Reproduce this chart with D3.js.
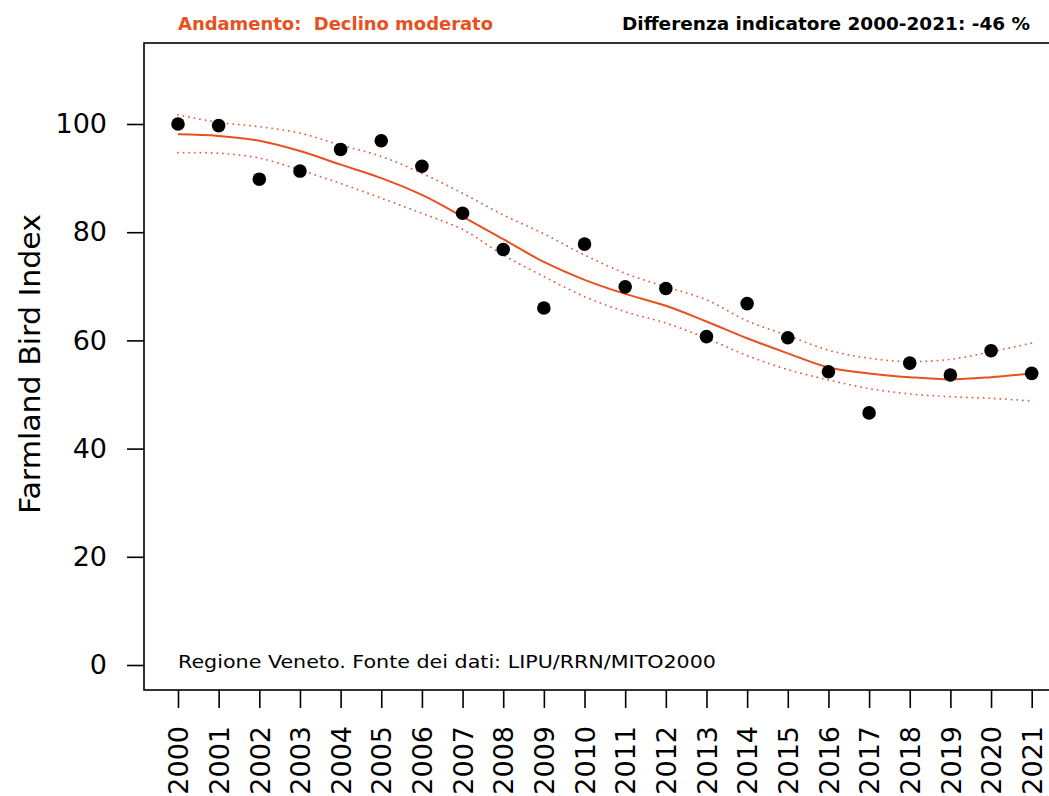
<!DOCTYPE html>
<html>
<head>
<meta charset="utf-8">
<script src="https://cdn.jsdelivr.net/npm/d3@7"></script>
<style>
  body { margin: 0; background: #fff; }
  svg { display: block; font-family: "DejaVu Sans", Verdana, sans-serif; }
</style>
</head>
<body>
<svg id="chart" width="1049" height="796"></svg>
<script>
const width = 1049;
const height = 796;

// data
const years = [2000, 2001, 2002, 2003, 2004, 2005, 2006, 2007, 2008, 2009, 2010,
  2011, 2012, 2013, 2014, 2015, 2016, 2017, 2018, 2019, 2020, 2021];
const index = [100, 99.7, 89.8, 91.3, 95.3, 96.9, 92.2, 83.5, 76.8, 66.0, 77.8,
  69.9, 69.6, 60.7, 66.8, 60.5, 54.2, 46.6, 55.8, 53.6, 58.1, 53.9];
const trend = [98.1, 97.8, 96.9, 95.0, 92.5, 90.0, 86.9, 82.9, 78.7, 74.5, 71.2,
  68.6, 66.4, 63.5, 60.4, 57.6, 55.0, 53.9, 53.2, 52.8, 53.2, 53.9];
const upper = [101.7, 100.3, 99.5, 98.3, 96.1, 94.0, 90.9, 87.2, 83.2, 79.7, 75.8,
  72.4, 69.9, 67.5, 63.6, 60.9, 58.2, 56.7, 56.1, 56.5, 57.9, 59.5];
const lower = [94.7, 94.6, 93.7, 91.5, 89.0, 86.3, 83.5, 80.5, 75.8, 71.8, 68.1,
  65.3, 63.2, 60.4, 57.2, 54.6, 52.7, 51.1, 50.1, 49.6, 49.3, 48.8];
const yTicks = [0, 20, 40, 60, 80, 100];

const orange = "#E8501E";

const svg = d3.select("#chart");

const box = { left: 144, top: 43, right: 1052, bottom: 690 };

const x = d3.scaleLinear().domain([2000, 2021]).range([178, 1031.7]);
const y = d3.scaleLinear().domain([0, 100]).range([665, 124]);

// headline texts
svg.append("text")
  .attr("x", 178).attr("y", 30)
  .attr("font-size", 18).attr("font-weight", "bold")
  .attr("fill", orange)
  .attr("textLength", 315).attr("lengthAdjust", "spacingAndGlyphs")
  .attr("xml:space", "preserve")
  .text("Andamento:  Declino moderato");

svg.append("text")
  .attr("x", 622).attr("y", 30)
  .attr("font-size", 18).attr("font-weight", "bold")
  .attr("fill", "#000")
  .attr("textLength", 408).attr("lengthAdjust", "spacingAndGlyphs")
  .text("Differenza indicatore 2000-2021: -46 %");

// plot frame
svg.append("rect")
  .attr("x", box.left).attr("y", box.top)
  .attr("width", box.right - box.left).attr("height", box.bottom - box.top)
  .attr("fill", "none").attr("stroke", "#000").attr("stroke-width", 1.6);

// y axis
const yAxis = svg.append("g")
  .attr("transform", `translate(${box.left},0)`)
  .call(d3.axisLeft(y).tickValues(yTicks).tickSize(17).tickPadding(20));
yAxis.select(".domain").remove();
yAxis.selectAll("line").attr("stroke", "#000").attr("stroke-width", 1.6);
yAxis.selectAll("text")
  .attr("font-size", 27).attr("fill", "#000")
  .attr("font-family", "DejaVu Sans, sans-serif");

// x axis
const xAxis = svg.append("g")
  .attr("transform", `translate(0,${box.bottom})`)
  .call(d3.axisBottom(x).tickValues(years).tickFormat(d3.format("d")).tickSize(18));
xAxis.select(".domain").remove();
xAxis.selectAll("line").attr("stroke", "#000").attr("stroke-width", 1.6);
xAxis.selectAll("text")
  .attr("font-size", 27).attr("fill", "#000")
  .attr("font-family", "DejaVu Sans, sans-serif")
  .attr("transform", "rotate(-90)")
  .attr("text-anchor", "end")
  .attr("x", -36).attr("y", 0).attr("dy", "0.36em");

// y axis title
svg.append("text")
  .attr("transform", "translate(40,364) rotate(-90)")
  .attr("text-anchor", "middle")
  .attr("font-size", 28)
  .attr("fill", "#000")
  .attr("textLength", 300).attr("lengthAdjust", "spacingAndGlyphs")
  .text("Farmland Bird Index");

// source note
svg.append("text")
  .attr("x", 178).attr("y", 668)
  .attr("font-size", 18).attr("fill", "#000")
  .attr("textLength", 538).attr("lengthAdjust", "spacingAndGlyphs")
  .text("Regione Veneto. Fonte dei dati: LIPU/RRN/MITO2000");

// trend and confidence lines
const line = (vals) => d3.line()
  .x((d, i) => x(years[i]))
  .y((d) => y(d))
  .curve(d3.curveCatmullRom.alpha(0.5))(vals);

[upper, lower].forEach((vals) => {
  svg.append("path")
    .attr("d", line(vals))
    .attr("fill", "none")
    .attr("stroke", "#E0603A")
    .attr("stroke-width", 1.8)
    .attr("stroke-linecap", "round")
    .attr("stroke-dasharray", "0.1,5.5");
});

svg.append("path")
  .attr("d", line(trend))
  .attr("fill", "none")
  .attr("stroke", orange)
  .attr("stroke-width", 2);

// index points
svg.append("g")
  .selectAll("circle")
  .data(index)
  .join("circle")
  .attr("cx", (d, i) => x(years[i]))
  .attr("cy", (d) => y(d))
  .attr("r", 6.8)
  .attr("fill", "#000");
</script>
</body>
</html>
